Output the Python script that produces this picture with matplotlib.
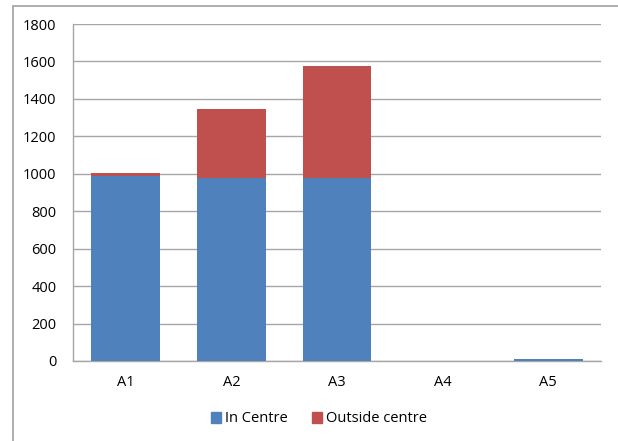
import matplotlib
matplotlib.use("Agg")
import matplotlib.pyplot as plt
import matplotlib.patches as mpatches
import numpy as np

matplotlib.rcParams["font.family"] = ["Open Sans", "DejaVu Sans"]

categories = ["A1", "A2", "A3", "A4", "A5"]
in_centre = [990, 977, 977, 0, 10]
outside_centre = [12, 368, 600, 0, 0]

BLUE = "#4F81BD"
RED = "#C0504D"
GRID = "#A6A6A6"

fig = plt.figure(figsize=(6.18, 4.41), dpi=100)
ax = fig.add_axes([73 / 618, 80 / 441, 528 / 618, 337 / 441])

x = np.arange(len(categories))
ax.bar(x, in_centre, width=0.65, color=BLUE, label="In Centre", zorder=3)
ax.bar(x, outside_centre, width=0.65, bottom=in_centre, color=RED,
       label="Outside centre", zorder=3)

ax.set_xlim(-0.5, len(categories) - 0.5)
ax.set_ylim(0, 1800)
ax.set_yticks(range(0, 1801, 200))
ax.set_xticks(x)
ax.set_xticklabels(categories)
ax.tick_params(axis="both", length=0, labelsize=10.5, colors="black")
ax.tick_params(axis="y", pad=12)
ax.tick_params(axis="x", pad=10)
ax.grid(axis="y", color=GRID, linewidth=1.0, zorder=0)

for side in ("top", "right"):
    ax.spines[side].set_visible(False)
for side in ("left", "bottom"):
    ax.spines[side].set_color(GRID)
    ax.spines[side].set_linewidth(1.0)

handles = [mpatches.Patch(color=BLUE, label="In Centre"),
           mpatches.Patch(color=RED, label="Outside centre")]
fig.legend(handles=handles, loc="center", bbox_to_anchor=(319 / 618, 1 - 419 / 441),
           ncol=2, frameon=False, fontsize=10.5, handlelength=0.7, handleheight=0.7,
           handletextpad=0.3, columnspacing=1.6)

# outer chart border (only left/top visible in the crop)
border = mpatches.Rectangle((13 / 618, -0.1), 1.2, 1 - 6 / 441 + 0.1,
                            transform=fig.transFigure, fill=False,
                            edgecolor="#A0A0A0", linewidth=1.2)
fig.patches.append(border)

fig.savefig("out.png", dpi=100)
